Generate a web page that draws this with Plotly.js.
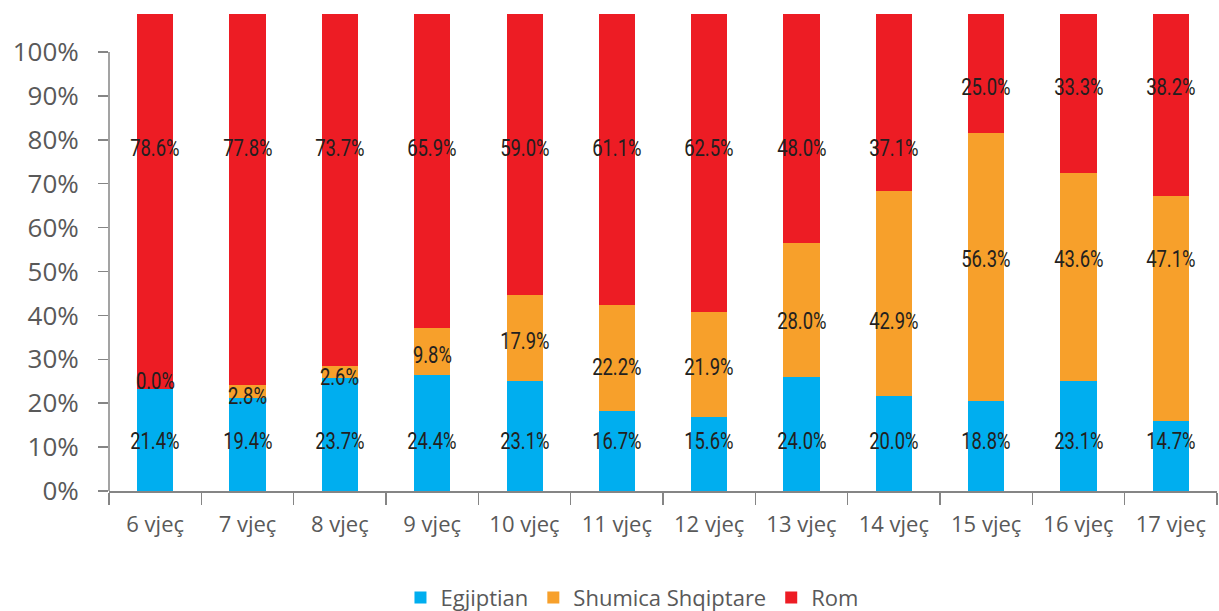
<!DOCTYPE html>
<html>
<head>
<meta charset="utf-8">
<script src="https://cdn.plot.ly/plotly-3.0.1.min.js"></script>
<style>html,body{margin:0;padding:0;background:#fff;}#chart{width:1219px;height:611px;}</style>
</head>
<body>
<div id="chart"></div>
<script>
const categories = ['6 vjeç','7 vjeç','8 vjeç','9 vjeç','10 vjeç','11 vjeç','12 vjeç','13 vjeç','14 vjeç','15 vjeç','16 vjeç','17 vjeç'];
const egjiptian = [21.4,19.4,23.7,24.4,23.1,16.7,15.6,24.0,20.0,18.8,23.1,14.7];
const shumica   = [0.0,2.8,2.6,9.8,17.9,22.2,21.9,28.0,42.9,56.3,43.6,47.1];
const rom       = [78.6,77.8,73.7,65.9,59.0,61.1,62.5,48.0,37.1,25.0,33.3,38.2];
const tickLabels = ['0%','10%','20%','30%','40%','50%','60%','70%','80%','90%','100%'];

// label anchor heights (placement of the value labels, as in the original)
const labelYEgj = [10.3,10.3,10.3,10.3,10.3,10.3,10.3,10.3,10.3,10.3,10.3,10.3];
const labelYShu = [22.9,19.9,23.9,28.5,31.4,25.8,25.8,35.6,35.6,48.6,48.6,48.6];
const labelYRom = [71.9,71.9,71.9,71.9,71.9,71.9,71.9,71.9,71.9,84.5,84.5,84.5];

const colors = {egj:'#00AEEF', shu:'#F7A02B', rom:'#ED1C24'};
const tickStep = 9.203; // original axis ticks are spaced tighter than the bar scale
const tickVals = tickLabels.map((t,i)=>i*tickStep);
const axisGray = '#858585';
const textGray = '#595959';
const labelFont = {family:'Roboto, sans-serif', size:23, color:'#231F20'};

const barW = 0.39;
const traces = [
  {type:'bar', name:'Egjiptian', x:categories, y:egjiptian, marker:{color:colors.egj}, width:barW, hoverinfo:'none'},
  {type:'bar', name:'Shumica Shqiptare', x:categories, y:shumica, marker:{color:colors.shu}, width:barW, hoverinfo:'none'},
  {type:'bar', name:'Rom', x:categories, y:rom, marker:{color:colors.rom}, width:barW, hoverinfo:'none'}
];

const annotations = [];
function addLabels(vals, ys){
  vals.forEach((v,i)=>{
    annotations.push({x:categories[i], y:ys[i], xref:'x', yref:'y', text:v.toFixed(1)+'%', showarrow:false, font:labelFont, xanchor:'center', yanchor:'middle'});
  });
}
addLabels(egjiptian, labelYEgj);
addLabels(shumica, labelYShu);
addLabels(rom, labelYRom);

const layout = {
  width:1219, height:611,
  margin:{l:109, r:2, t:10, b:120, autoexpand:false},
  paper_bgcolor:'#fff', plot_bgcolor:'#fff',
  barmode:'stack',
  showlegend:true,
  legend:{orientation:'h', x:0.472, xanchor:'center', y:-0.222, yanchor:'middle', font:{family:'Open Sans, sans-serif', size:22, color:textGray}, traceorder:'normal'},
  xaxis:{type:'category', tickson:'boundaries', ticks:'outside', ticklen:12, tickwidth:1.5, tickcolor:axisGray,
         showline:true, linecolor:axisGray, linewidth:1.5, showgrid:false, zeroline:false,
         tickfont:{family:'Open Sans, sans-serif', size:22, color:textGray}, ticklabelstandoff:13},
  yaxis:{range:[0,100.84], tickvals:tickVals, ticktext:tickLabels, ticks:'outside', ticklen:10, tickwidth:1.5, tickcolor:axisGray,
         showline:false, showgrid:false, zeroline:false,
         tickfont:{family:'Open Sans, sans-serif', size:26, color:textGray}, ticklabelstandoff:14},
  shapes:[{type:'line', xref:'paper', yref:'y', x0:0, x1:0, y0:0, y1:tickVals[tickVals.length-1], line:{color:axisGray, width:1.5}}],
  annotations:annotations
};

Plotly.newPlot('chart', traces, layout, {displayModeBar:false, staticPlot:true}).then(gd=>{
  // condense the value labels (the original uses a condensed typeface)
  gd.querySelectorAll('.annotation-text').forEach(t=>{
    const w = t.getComputedTextLength();
    t.setAttribute('textLength', (w*0.8).toFixed(1));
    t.setAttribute('lengthAdjust','spacingAndGlyphs');
  });
});
</script>
</body>
</html>
